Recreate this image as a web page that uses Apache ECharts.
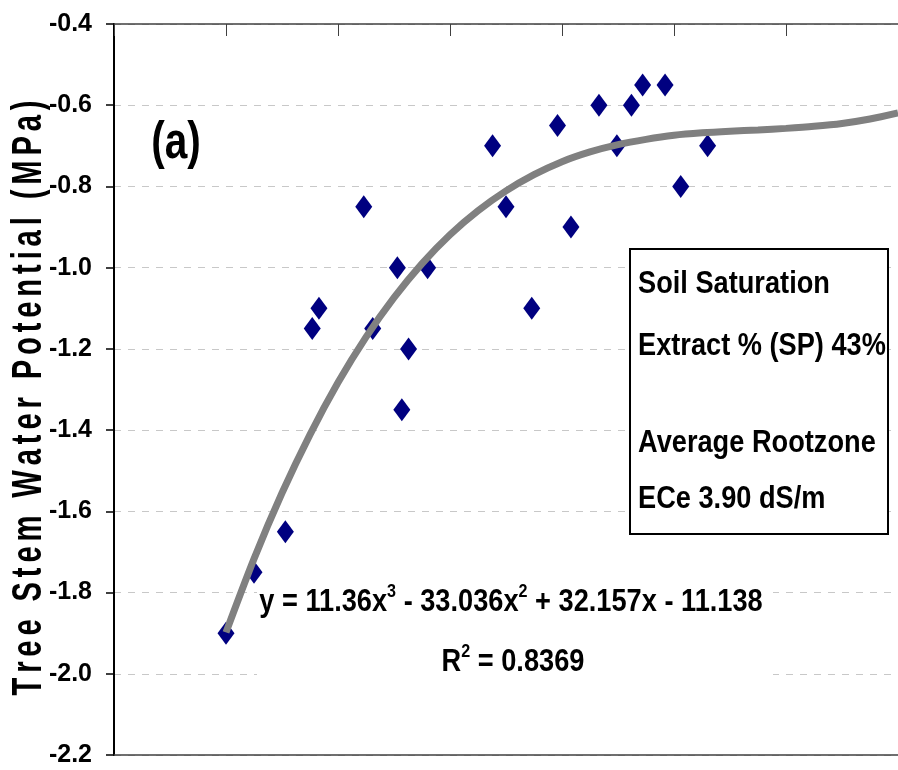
<!DOCTYPE html>
<html>
<head>
<meta charset="utf-8">
<script src="https://cdn.jsdelivr.net/npm/echarts@6/dist/echarts.min.js"></script>
<style>
  html, body { margin: 0; padding: 0; background: #fff; }
  #chart { width: 898px; height: 770px; }
</style>
</head>
<body>
<div id="chart"></div>
<script>
// observed points (ECe ratio vs stem water potential)
const obsX = [0.50, 0.525, 0.553, 0.577, 0.583, 0.623, 0.631, 0.653, 0.657, 0.663, 0.680,
  0.738, 0.750, 0.773, 0.796, 0.808, 0.833, 0.849, 0.862, 0.872, 0.892, 0.906, 0.930]
const obsY = [-1.90, -1.75, -1.65, -1.15, -1.10, -0.85, -1.15, -1.00, -1.35, -1.20, -1.00,
  -0.70, -0.85, -1.10, -0.65, -0.90, -0.60, -0.70, -0.60, -0.55, -0.55, -0.80, -0.70]

// trendline as drawn in the picture
const fitX = [0.50, 0.525, 0.55, 0.575, 0.60, 0.625, 0.65, 0.675, 0.70, 0.725, 0.75, 0.775,
  0.80, 0.825, 0.85, 0.875, 0.90, 0.925, 0.95, 0.975, 1.00, 1.025, 1.05, 1.075, 1.10]
const fitY = [-1.898, -1.717, -1.555, -1.411, -1.283, -1.171, -1.074, -0.990, -0.919, -0.860,
  -0.811, -0.771, -0.739, -0.715, -0.697, -0.684, -0.674, -0.668, -0.664, -0.661, -0.657,
  -0.652, -0.645, -0.634, -0.619]

const yName = 'Tree Stem Water Potential (MPa)'
const boxLines = ['Soil Saturation', 'Extract % (SP) 43%', 'Average Rootzone', 'ECe 3.90 dS/m']
const eqLine = '{b|y = 11.36x}{s|3}{b| - 33.036x}{s|2}{b| + 32.157x - 11.138}'
const r2Line = '{b|R}{s|2}{b| = 0.8369}'

// no narrow face installed, so the bold sans is squeezed with scaleX
const font = "'Liberation Sans', Arial, sans-serif"
const squeeze = 0.85

// axis title is tracked out in the original
const spaced = yName.split('').join('\u2006')

const chart = echarts.init(document.getElementById('chart'))

const eqRich = {
  b: { fontFamily: font, fontWeight: 'bold', fontSize: 32, lineHeight: 40, color: '#000' },
  s: { fontFamily: font, fontWeight: 'bold', fontSize: 19, lineHeight: 40, verticalAlign: 'top', color: '#000' }
}

const boxY = [284, 346, 443, 499]

const option = {
  animation: false,
  grid: { left: 114, right: 0, top: 24, bottom: 15 },
  xAxis: [
    {
      type: 'value', min: 0.4, max: 1.1, interval: 0.1, position: 'bottom',
      axisLine: { show: true, lineStyle: { color: '#404040', width: 1.5 } },
      axisTick: { show: false },
      axisLabel: { show: false },
      splitLine: { show: false }
    },
    {
      type: 'value', min: 0.4, max: 1.1, interval: 0.1, position: 'top',
      axisLine: { show: true, onZero: false, lineStyle: { color: '#404040', width: 1.5 } },
      axisTick: { show: true, inside: true, length: 12, lineStyle: { color: '#404040', width: 1 } },
      axisLabel: { show: false },
      splitLine: { show: false }
    }
  ],
  yAxis: {
    type: 'value', min: -2.2, max: -0.4, interval: 0.2,
    axisLine: { show: true, onZero: false, lineStyle: { color: '#000', width: 2 } },
    axisTick: { show: true, length: 8, lineStyle: { color: '#000', width: 1.5 } },
    axisLabel: {
      margin: 22, color: '#000', fontFamily: font, fontWeight: 'bold', fontSize: 25,
      formatter: v => v.toFixed(1)
    },
    splitLine: { show: true, lineStyle: { color: '#c8c8c8', width: 1, type: [7, 7] } }
  },
  graphic: [
    { type: 'rect', silent: true, z: 1, shape: { x: 257, y: 578, width: 516, height: 122 }, style: { fill: '#fff' } },
    { type: 'text', z: 10, x: 511, y: 602, scaleX: squeeze, style: { text: eqLine, x: 0, y: 0, align: 'center', verticalAlign: 'middle', rich: eqRich } },
    { type: 'text', z: 10, x: 513, y: 662, scaleX: squeeze, style: { text: r2Line, x: 0, y: 0, align: 'center', verticalAlign: 'middle', rich: eqRich } },
    { type: 'rect', silent: true, z: 1, shape: { x: 630, y: 249, width: 258, height: 285 }, style: { fill: '#fff', stroke: '#000', lineWidth: 2 } },
    ...boxLines.map((t, i) => ({
      type: 'text', z: 10, x: 638, y: boxY[i], scaleX: squeeze,
      style: { text: t, x: 0, y: 0, align: 'left', verticalAlign: 'middle', fontFamily: font, fontWeight: 'bold', fontSize: 32, fill: '#000' }
    })),
    { type: 'text', z: 10, x: 176, y: 144, scaleX: 0.78, style: { text: '(a)', x: 0, y: 0, align: 'center', verticalAlign: 'middle', fontFamily: font, fontWeight: 'bold', fontSize: 52, fill: '#000' } },
    {
      type: 'text', z: 10, x: 29, y: 398, rotation: Math.PI / 2, scaleX: 0.695,
      style: { text: spaced, x: 0, y: 0, align: 'center', verticalAlign: 'middle', fontFamily: font, fontWeight: 'bold', fontSize: 42, fill: '#000' }
    }
  ],
  series: [
    {
      name: 'observed',
      type: 'scatter',
      xAxisIndex: 0,
      data: obsX.map((x, i) => [x, obsY[i]]),
      symbol: 'diamond',
      symbolSize: [17, 23],
      itemStyle: { color: '#000080', opacity: 1 },
      z: 3
    },
    {
      name: 'trend',
      type: 'line',
      xAxisIndex: 0,
      data: fitX.map((x, i) => [x, fitY[i]]),
      smooth: 0.3,
      showSymbol: false,
      lineStyle: { color: '#808080', width: 7 },
      z: 4
    }
  ]
}

chart.setOption(option)
</script>
</body>
</html>
